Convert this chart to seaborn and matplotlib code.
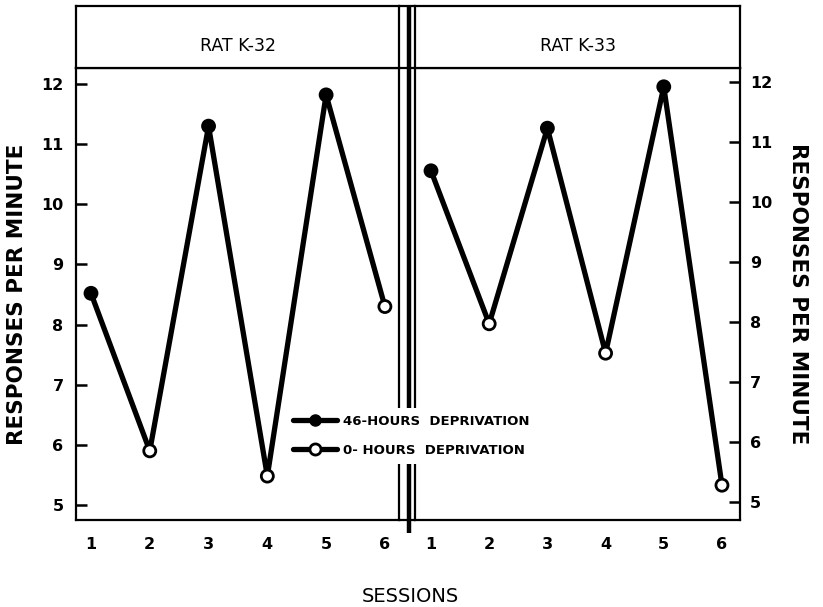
import matplotlib
matplotlib.use("Agg")
import matplotlib.pyplot as plt
from matplotlib.lines import Line2D
import seaborn as sns
import pandas as pd

# values
sessions = [1, 2, 3, 4, 5, 6]
rate_k32 = [8.52, 5.9, 11.3, 5.48, 11.82, 8.3]
rate_k33 = [10.52, 7.97, 11.23, 7.48, 11.92, 5.28]
deprivation = ["46", "0", "46", "0", "46", "0"]
rat_names = ["RAT K-32", "RAT K-33"]
y_ticks = [5, 6, 7, 8, 9, 10, 11, 12]
legend_labels = ["46-HOURS  DEPRIVATION", "0- HOURS  DEPRIVATION"]

sns.set_theme(style="white")
plt.rcParams["font.family"] = ["DejaVu Sans"]
plt.rcParams["text.color"] = "black"
plt.rcParams["axes.labelcolor"] = "black"
plt.rcParams["xtick.color"] = "black"
plt.rcParams["ytick.color"] = "black"

W, H = 823, 607
fig = plt.figure(figsize=(W / 100, H / 100), dpi=100)


def px_axes(x0, y0, x1, y1):
    # axes from pixel box (top-left origin)
    return fig.add_axes([x0 / W, 1 - y1 / H, (x1 - x0) / W, (y1 - y0) / H])


lw_spine = 1.6
df = pd.DataFrame({
    "session": sessions * 2,
    "rate": rate_k32 + rate_k33,
    "rat": [rat_names[0]] * 6 + [rat_names[1]] * 6,
    "dep": deprivation * 2,
})

panels = [
    (px_axes(76, 68, 399, 520), (0.745, 6.24), (4.75, 12.267), "left"),
    (px_axes(415, 68, 740, 520), (0.725, 6.31), (4.70, 12.233), "right"),
]

for (ax, xl, yl, side), rat in zip(panels, rat_names):
    d = df[df["rat"] == rat]
    sns.lineplot(data=d, x="session", y="rate", color="black", lw=3.8,
                 ax=ax, legend=False, zorder=2)
    sns.scatterplot(data=d, x="session", y="rate", hue="dep",
                    palette={"46": "black", "0": "white"}, edgecolor="black",
                    linewidth=2.0, s=75, ax=ax, legend=False, zorder=3)
    ax.set_xlim(*xl)
    ax.set_ylim(*yl)
    ax.set_xticks(sessions)
    ax.set_yticks(y_ticks)
    ax.set_xlabel("")
    ax.set_ylabel("")
    for sp in ax.spines.values():
        sp.set_linewidth(lw_spine)
        sp.set_color("black")
    ax.tick_params(axis="x", direction="out", length=8, width=1.8,
                   pad=4, labelsize=11.5)
    if side == "left":
        ax.tick_params(axis="y", direction="in", length=8, width=1.8, pad=9,
                       labelsize=11.5, left=True, right=False)
        ax.set_ylabel("RESPONSES PER MINUTE", fontsize=15.5,
                      fontweight="bold", labelpad=10)
    else:
        ax.yaxis.tick_right()
        ax.yaxis.set_label_position("right")
        ax.tick_params(axis="y", direction="in", length=8, width=1.8, pad=7,
                       labelsize=11.5, left=False, right=True)
        ax.set_ylabel("RESPONSES PER MINUTE", fontsize=15.5,
                      fontweight="bold", rotation=270, labelpad=26)
    for lab in ax.get_xticklabels() + ax.get_yticklabels():
        lab.set_fontweight("bold")

# header strips
for (x0, x1), rat in zip([(76, 399), (415, 740)], rat_names):
    hx = px_axes(x0, 6, x1, 68)
    hx.set_xticks([])
    hx.set_yticks([])
    for sp in hx.spines.values():
        sp.set_linewidth(lw_spine)
        sp.set_color("black")
    hx.text(0.5, 0.36, rat, ha="center", va="center", fontsize=12.5,
            transform=hx.transAxes)

fig.text(410 / W, 1 - 597 / H, "SESSIONS", ha="center", va="center",
         fontsize=14)

# overlay for the panel separator and the legend
ov = fig.add_axes([0, 0, 1, 1])
ov.set_xlim(0, W)
ov.set_ylim(H, 0)
ov.axis("off")
ov.patch.set_alpha(0)
ov.plot([409, 409], [6, 533], color="black", lw=3.2, solid_capstyle="butt")
ov.plot([399, 415], [6, 6], color="black", lw=lw_spine)
ov.plot([399, 415], [68, 68], color="black", lw=lw_spine)
ov.plot([399, 415], [520, 520], color="black", lw=lw_spine)

handles = [
    Line2D([], [], color="black", lw=3.8, marker="o", markersize=8,
           markerfacecolor="black", markeredgecolor="black"),
    Line2D([], [], color="black", lw=3.8, marker="o", markersize=8,
           markerfacecolor="white", markeredgecolor="black",
           markeredgewidth=2),
]
leg = ov.legend(handles, legend_labels, loc="upper left",
                bbox_to_anchor=(286 / W, 1 - 408 / H),
                bbox_transform=fig.transFigure, frameon=True,
                facecolor="white", edgecolor="none", framealpha=1,
                fancybox=False, handlelength=3.4, handletextpad=0.4,
                labelspacing=1.25, borderpad=0.5, borderaxespad=0,
                prop={"size": 9.5, "weight": "bold"})

fig.savefig("out.png", dpi=100)
